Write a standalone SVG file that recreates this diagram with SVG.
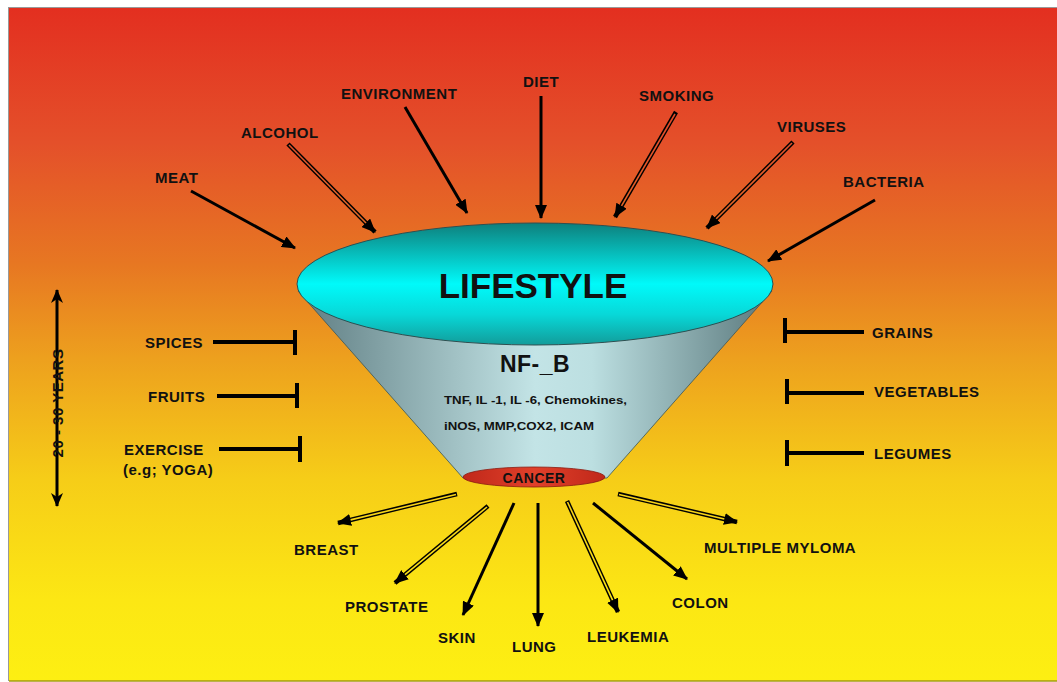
<svg xmlns="http://www.w3.org/2000/svg" width="1057" height="682" viewBox="0 0 1057 682">
<defs>
<linearGradient id="bg" gradientUnits="userSpaceOnUse" x1="0" y1="8" x2="0" y2="681">
<stop offset="0" stop-color="#e32f20"/>
<stop offset="0.2" stop-color="#e4502a"/>
<stop offset="0.38" stop-color="#e77722"/>
<stop offset="0.52" stop-color="#eda01e"/>
<stop offset="0.7" stop-color="#f6cd18"/>
<stop offset="0.88" stop-color="#fce714"/>
<stop offset="1" stop-color="#fdef12"/>
</linearGradient>
<linearGradient id="cone" x1="0" y1="0" x2="1" y2="0">
<stop offset="0" stop-color="#5f7d82"/>
<stop offset="0.5" stop-color="#c3e4e6"/>
<stop offset="0.62" stop-color="#bcdfe1"/>
<stop offset="1" stop-color="#5a787c"/>
</linearGradient>
<linearGradient id="cyan" x1="0" y1="0" x2="0" y2="1">
<stop offset="0" stop-color="#0e7f7c"/>
<stop offset="0.5" stop-color="#00fafa"/>
<stop offset="0.75" stop-color="#08d8d8"/>
<stop offset="1" stop-color="#129c9a"/>
</linearGradient>
<linearGradient id="red" x1="0" y1="0" x2="1" y2="0">
<stop offset="0" stop-color="#c0281a"/>
<stop offset="0.5" stop-color="#e0402a"/>
<stop offset="1" stop-color="#c0281a"/>
</linearGradient>
<marker id="ah" markerWidth="14" markerHeight="12" refX="13" refY="6" orient="auto" markerUnits="userSpaceOnUse">
<path d="M0,0 L14,6 L0,12 Z" fill="#000"/>
</marker>
<marker id="ah2" markerWidth="14" markerHeight="12" refX="13" refY="6" orient="auto-start-reverse" markerUnits="userSpaceOnUse">
<path d="M0,0 L14,6 L0,12 L4,6 Z" fill="#000"/>
</marker>
</defs>
<style>
.t{font-family:"Liberation Sans",Arial,sans-serif;font-weight:bold;font-size:15px;letter-spacing:0.5px;fill:#111}
.a{stroke:#000;stroke-width:3;fill:none;marker-end:url(#ah)}
.h{stroke:#000;stroke-width:4.5;fill:none;marker-end:url(#ah)}
.hi{stroke:url(#bg);stroke-width:1.6;fill:none}
.bar{stroke:#000;stroke-width:4;fill:none}
</style>
<rect x="0" y="0" width="1057" height="682" fill="#fff"/>
<rect x="9" y="8" width="1048" height="673" fill="url(#bg)"/>
<line x1="8" y1="7.5" x2="1057" y2="7.5" stroke="#999" stroke-width="1"/>
<line x1="8.5" y1="7" x2="8.5" y2="681" stroke="#999" stroke-width="1"/>
<line x1="9" y1="681" x2="1057" y2="681" stroke="#a39a10" stroke-width="1.5"/>

<g id="funnel">
<path d="M298,291 L463,478 L607,478 L772,291 Z" fill="url(#cone)" stroke="#3a5558" stroke-width="0.8"/>
<ellipse cx="535" cy="284" rx="238" ry="61" fill="url(#cyan)" stroke="#2e4f50" stroke-width="1"/>
<text class="t" x="533" y="298" text-anchor="middle" style="font-size:35px;letter-spacing:0">LIFESTYLE</text>
<text class="t" x="535" y="372" text-anchor="middle" style="font-size:23px;letter-spacing:0.5px">NF-_B</text>
<text class="t" x="444" y="404" style="font-size:11px;letter-spacing:0" textLength="183" lengthAdjust="spacingAndGlyphs">TNF, IL -1, IL -6, Chemokines,</text>
<text class="t" x="444" y="430" style="font-size:11px;letter-spacing:0" textLength="150" lengthAdjust="spacingAndGlyphs">iNOS, MMP,COX2, ICAM</text>
</g>
<g id="cancer">
<ellipse cx="534" cy="477" rx="71" ry="10" fill="url(#red)" stroke="#8a1a10" stroke-width="0.8"/>
<text class="t" x="534" y="483" text-anchor="middle" style="font-size:14px">CANCER</text>
</g>

<g id="connectors">
<line class="a" x1="191" y1="191" x2="295" y2="248"/>
<line class="h" x1="288" y1="144" x2="375" y2="232"/>
<line class="hi" x1="289" y1="145" x2="366" y2="223"/>
<line class="a" x1="405" y1="107" x2="467" y2="213"/>
<line class="a" x1="541" y1="96" x2="541" y2="218"/>
<line class="h" x1="676" y1="112" x2="615" y2="217"/>
<line class="hi" x1="675" y1="114" x2="621.5" y2="205.8"/>
<line class="h" x1="793" y1="142" x2="707" y2="228"/>
<line class="hi" x1="792" y1="143" x2="716.2" y2="218.8"/>
<line class="a" x1="875" y1="200" x2="768" y2="261"/>

<line x1="57" y1="290" x2="57" y2="506" stroke="#000" stroke-width="3" marker-start="url(#ah2)" marker-end="url(#ah2)"/>

<path class="bar" d="M213,342 H295 M295,330 V355"/>
<path class="bar" d="M217,396 H297 M297,383 V408"/>
<path class="bar" d="M219,449 H300 M300,436 V462"/>
<path class="bar" d="M864,332 H785 M785,318 V343"/>
<path class="bar" d="M864,393 H787 M787,379 V404"/>
<path class="bar" d="M864,453 H787 M787,440 V466"/>

<line class="h" x1="457" y1="494" x2="338" y2="523"/>
<line class="hi" x1="456" y1="494.5" x2="350.6" y2="519.9"/>
<line class="h" x1="488" y1="506" x2="395" y2="583"/>
<line class="hi" x1="487" y1="507" x2="405" y2="574.7"/>
<line class="a" x1="514" y1="503" x2="463" y2="615"/>
<line class="a" x1="538" y1="503" x2="538" y2="626"/>
<line class="h" x1="567" y1="501" x2="618" y2="612"/>
<line class="hi" x1="567.5" y1="502" x2="612.6" y2="600.2"/>
<line class="a" x1="593" y1="503" x2="687" y2="579"/>
<line class="h" x1="618" y1="494" x2="737" y2="522"/>
<line class="hi" x1="619" y1="494.5" x2="724.3" y2="519"/>
</g>

<g id="meat"><text class="t" x="155" y="183">MEAT</text></g>
<g id="alcohol"><text class="t" x="241" y="138">ALCOHOL</text></g>
<g id="environment"><text class="t" x="341" y="99">ENVIRONMENT</text></g>
<g id="diet"><text class="t" x="523" y="87">DIET</text></g>
<g id="smoking"><text class="t" x="639" y="101">SMOKING</text></g>
<g id="viruses"><text class="t" x="777" y="132">VIRUSES</text></g>
<g id="bacteria"><text class="t" x="843" y="187">BACTERIA</text></g>

<g id="years"><text class="t" transform="translate(63,403) rotate(-90)" text-anchor="middle">20 - 30 YEARS</text></g>
<g id="spices"><text class="t" x="145" y="348">SPICES</text></g>
<g id="fruits"><text class="t" x="148" y="402">FRUITS</text></g>
<g id="exercise"><text class="t" x="124" y="455">EXERCISE</text><text class="t" x="123" y="475">(e.g; YOGA)</text></g>
<g id="grains"><text class="t" x="872" y="338">GRAINS</text></g>
<g id="vegetables"><text class="t" x="874" y="397">VEGETABLES</text></g>
<g id="legumes"><text class="t" x="874" y="459">LEGUMES</text></g>

<g id="breast"><text class="t" x="294" y="555">BREAST</text></g>
<g id="prostate"><text class="t" x="345" y="612">PROSTATE</text></g>
<g id="skin"><text class="t" x="438" y="643">SKIN</text></g>
<g id="lung"><text class="t" x="512" y="652">LUNG</text></g>
<g id="leukemia"><text class="t" x="587" y="642">LEUKEMIA</text></g>
<g id="colon"><text class="t" x="672" y="608">COLON</text></g>
<g id="myloma"><text class="t" x="704" y="553">MULTIPLE MYLOMA</text></g>
</svg>
